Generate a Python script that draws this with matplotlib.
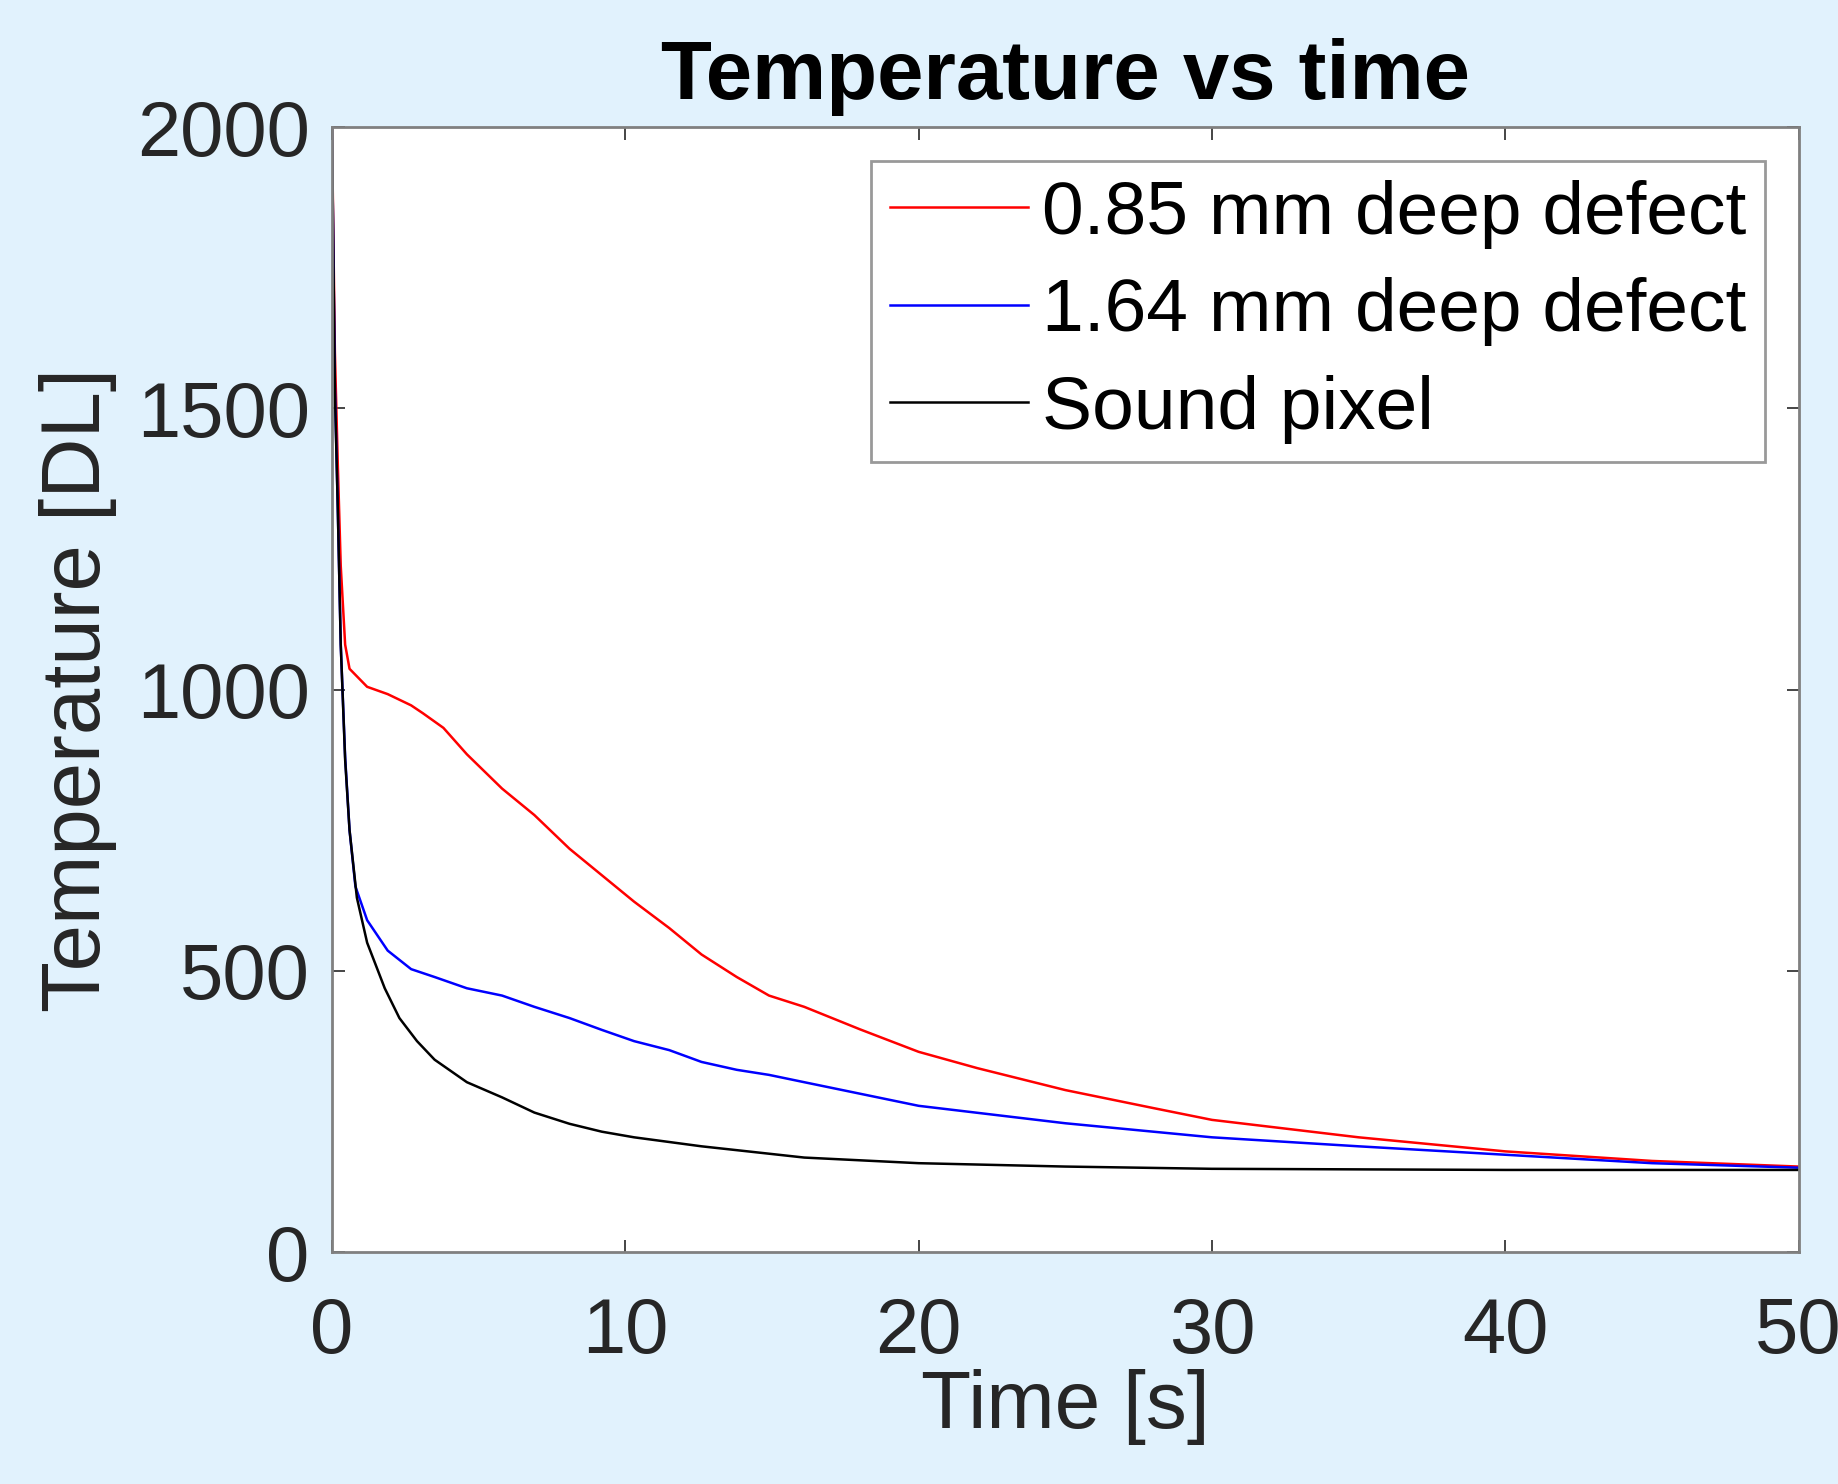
import numpy as np
import matplotlib.pyplot as plt

plt.rcParams['font.family'] = ['Liberation Sans', 'DejaVu Sans']

# values (time in s, temperature in DL)
t_red = [0, 0.1, 0.2, 0.3, 0.45, 0.6, 1.2, 1.9, 2.7, 3.1, 3.8, 4.6, 5.8, 6.9, 8.1, 9.2,
         10.3, 11.5, 12.6, 13.8, 14.9, 16.1, 18, 20, 22, 25, 28, 30, 35, 40, 45, 50]
T_red = [2000, 1600, 1400, 1220, 1080, 1037, 1005, 992, 972, 958, 932, 885, 824, 777, 717, 670,
         623, 576, 529, 489, 456, 436, 396, 356, 327, 288, 256, 235, 204, 179, 162, 152]

t_blue = [0, 0.1, 0.2, 0.3, 0.45, 0.6, 0.8, 1.2, 1.9, 2.7, 3.5, 4.6, 5.8, 6.9, 8.1, 9.2,
          10.3, 11.5, 12.6, 13.8, 14.9, 16.1, 20, 25, 30, 35, 40, 45, 50]
T_blue = [2000, 1540, 1320, 1080, 880, 750, 650, 590, 536, 503, 489, 469, 456, 436, 416, 395,
          375, 359, 338, 324, 315, 302, 260, 229, 204, 188, 173, 158, 150]

t_black = [0, 0.1, 0.2, 0.3, 0.45, 0.6, 0.85, 1.2, 1.8, 2.3, 2.9, 3.5, 4.6, 5.8, 6.9, 8.1, 9.2,
           10.3, 12.6, 16.1, 20, 25, 30, 40, 50]
T_black = [2000, 1530, 1320, 1080, 875, 750, 630, 550, 469, 416, 375, 342, 302, 275, 248, 228, 214,
           204, 188, 168, 158, 152, 148, 146, 146]

labels = ['0.85 mm deep defect', '1.64 mm deep defect', 'Sound pixel']

bg = '#E1F2FD'
txt = '#262626'

fig = plt.figure(figsize=(18.38, 14.84), dpi=100, facecolor=bg)
ax = fig.add_axes([0.1806, 0.1563, 0.798, 0.758])

ax.plot(t_red, T_red, color='red', lw=1.8, label=labels[0])
ax.plot(t_blue, T_blue, color='blue', lw=1.8, label=labels[1])
ax.plot(t_black, T_black, color='black', lw=1.8, label=labels[2])

ax.set_xlim(0, 50)
ax.set_ylim(0, 2000)
ax.set_xticks([0, 10, 20, 30, 40, 50])
ax.set_yticks([0, 500, 1000, 1500, 2000])
ax.tick_params(direction='in', top=True, right=True, length=9, width=1.2,
               labelsize=56, labelcolor=txt, color=txt)
ax.tick_params(axis='x', pad=32)
ax.tick_params(axis='y', pad=16)
for s in ax.spines.values():
    s.set_color('#808080')
    s.set_linewidth(2)

ax.set_xlabel('Time [s]', fontsize=59, color=txt, labelpad=0)
ax.set_ylabel('Temperature [DL]', fontsize=60, color=txt, labelpad=14)
ax.set_title('Temperature vs time', fontsize=60, fontweight='bold', pad=20)

leg = ax.legend(loc='upper right', fontsize=54, handlelength=1.84, handletextpad=0.19,
                labelspacing=0.38, borderaxespad=0.45, borderpad=0.25, fancybox=False)
leg.get_frame().set_edgecolor('#808080')
leg.get_frame().set_linewidth(2)

fig.savefig('out.png', dpi=100, facecolor=bg)
